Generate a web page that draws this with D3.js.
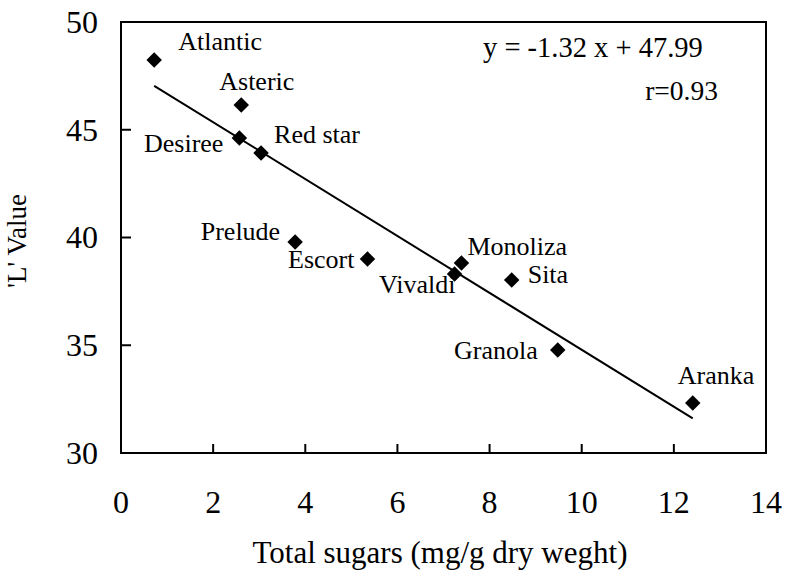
<!DOCTYPE html>
<html>
<head>
<meta charset="utf-8">
<script src="https://cdn.jsdelivr.net/npm/d3@7"></script>
<style>
	body { margin: 0; background: #fff; }
	svg text { font-family: "Liberation Serif", "DejaVu Serif", serif; fill: #000; }
	.frame { fill: none; stroke: #000; stroke-width: 2; }
	.tick-mark { stroke: #000; stroke-width: 2; }
	.fit { stroke: #000; stroke-width: 2; fill: none; }
</style>
</head>
<body>
<svg id="chart"></svg>
<script>
let varieties	= ['Atlantic', 'Asteric', 'Desiree', 'Red star', 'Prelude', 'Escort', 'Vivaldi', 'Monoliza', 'Sita', 'Granola', 'Aranka'];
let sugars		= [0.72, 2.61, 2.57, 3.04, 3.78, 5.35, 7.24, 7.39, 8.48, 9.48, 12.41];
let lValues		= [48.24, 46.15, 44.62, 43.92, 39.79, 39.0, 38.31, 38.82, 38.03, 34.78, 32.32];
let xTicks		= [0, 2, 4, 6, 8, 10, 12, 14];
let yTicks		= [30, 35, 40, 45, 50];
let slope		= -1.32;
let intercept	= 47.99;

// label placement around each diamond: dx, dy (to baseline), anchor
let labelPos	= {
	'Atlantic':	[24, -10, 'start'],
	'Asteric':	[-22, -15, 'start'],
	'Desiree':	[-16, 14, 'end'],
	'Red star':	[13, -10, 'start'],
	'Prelude':	[-15, -2, 'end'],
	'Escort':	[-13, 9, 'end'],
	'Vivaldi':	[1, 19, 'end'],
	'Monoliza':	[6, -8, 'start'],
	'Sita':		[16, 3, 'start'],
	'Granola':	[-20, 9, 'end'],
	'Aranka':	[-15, -19, 'start']
};

let canvasWidth		= 785;
let canvasHeight	= 581;
let margin			= { top: 22, right: 19, bottom: 128, left: 121 };
let width			= canvasWidth - margin.left - margin.right;
let height			= canvasHeight - margin.top - margin.bottom;

let svg		= d3.select('#chart')
	.attr('width', canvasWidth)
	.attr('height', canvasHeight)
	.attr('font-family', '"Liberation Serif", "DejaVu Serif", serif');

let x		= d3.scaleLinear().domain([0, 14]).range([margin.left, margin.left + width]);
let y		= d3.scaleLinear().domain([30, 50]).range([margin.top + height, margin.top]);

svg.append('rect')
	.attr('class', 'frame')
	.attr('x', x(0))
	.attr('y', y(50))
	.attr('width', x(14) - x(0))
	.attr('height', y(30) - y(50));

// ticks point inward
svg.append('g').selectAll('line').data(xTicks.slice(1, -1)).enter()
	.append('line')
		.attr('class', 'tick-mark')
		.attr('x1', (o) => x(o)).attr('x2', (o) => x(o))
		.attr('y1', y(30)).attr('y2', y(30) - 9);

svg.append('g').selectAll('line').data(yTicks.slice(1, -1)).enter()
	.append('line')
		.attr('class', 'tick-mark')
		.attr('x1', x(0)).attr('x2', x(0) + 10)
		.attr('y1', (o) => y(o)).attr('y2', (o) => y(o));

svg.append('g').selectAll('text').data(xTicks).enter()
	.append('text')
		.attr('x', (o) => x(o))
		.attr('y', y(30) + 60)
		.attr('text-anchor', 'middle')
		.style('font-size', '32px')
		.text((o) => o);

svg.append('g').selectAll('text').data(yTicks).enter()
	.append('text')
		.attr('x', x(0) - 23)
		.attr('y', (o) => y(o))
		.attr('dy', '0.34em')
		.attr('text-anchor', 'end')
		.style('font-size', '32px')
		.text((o) => o);

svg.append('text')
	.attr('x', 440)
	.attr('y', 563)
	.attr('text-anchor', 'middle')
	.style('font-size', '31px')
	.text('Total sugars (mg/g dry weght)');

svg.append('text')
	.attr('transform', 'translate(26,241) rotate(-90)')
	.attr('text-anchor', 'middle')
	.style('font-size', '27px')
	.text("'L' Value");

// regression line over the data range
let xExt	= d3.extent(sugars);
let lineFunc	= d3.line().x((o) => x(o)).y((o) => y(slope * o + intercept));
svg.append('path')
	.attr('class', 'fit')
	.attr('d', lineFunc(xExt));

let points	= varieties.map((o, i) => ({ name: o, sx: sugars[i], ly: lValues[i] }));
let diamond	= d3.symbol().type(d3.symbolSquare).size(120);

let ptWrapper	= svg.append('g').selectAll('g').data(points).enter()
	.append('g')
		.attr('transform', (o) => 'translate(' + x(o.sx) + ',' + y(o.ly) + ')');

ptWrapper.append('path')
	.attr('d', diamond)
	.attr('transform', 'rotate(45)')
	.attr('fill', '#000');

ptWrapper.append('text')
	.attr('x', (o) => labelPos[o.name][0])
	.attr('y', (o) => labelPos[o.name][1])
	.attr('text-anchor', (o) => labelPos[o.name][2])
	.style('font-size', '26px')
	.text((o) => o.name);

svg.append('text')
	.attr('x', 483)
	.attr('y', 57)
	.style('font-size', '28.5px')
	.text('y = -1.32 x + 47.99');

svg.append('text')
	.attr('x', 718)
	.attr('y', 100)
	.attr('text-anchor', 'end')
	.style('font-size', '27.5px')
	.text('r=0.93');
</script>
</body>
</html>
